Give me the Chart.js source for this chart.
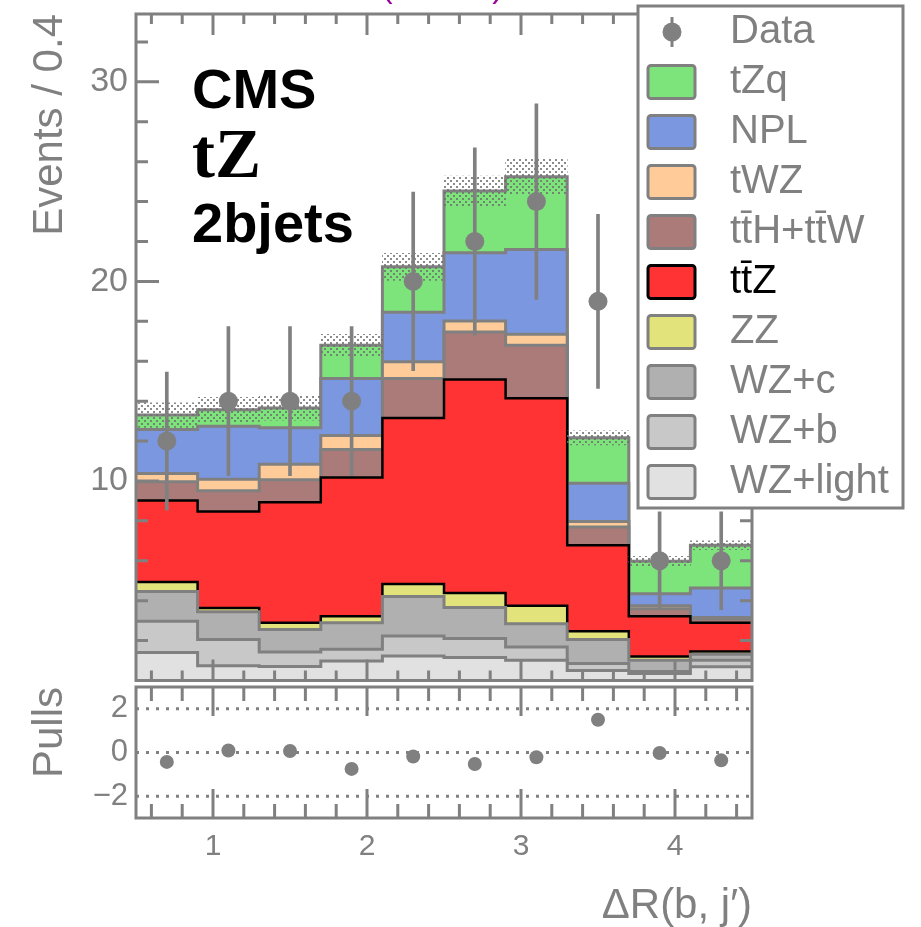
<!DOCTYPE html>
<html>
<head>
<meta charset="utf-8">
<script src="https://cdn.jsdelivr.net/npm/chart.js@4.4.1/dist/chart.umd.min.js"></script>
<style>
  body { margin: 0; background: #fff; }
  #wrap { position: relative; width: 921px; height: 927px; overflow: hidden; background: #fff; }
  #mainChart { position: absolute; left: 0; top: 0; }
  #pullChart { position: absolute; left: 0; top: 677px; }
</style>
</head>
<body>
<div id="wrap">
  <canvas id="mainChart" width="921" height="690"></canvas>
  <canvas id="pullChart" width="921" height="250"></canvas>
</div>
<script>
const binEdges = [0.5, 0.9, 1.3, 1.7, 2.1, 2.5, 2.9, 3.3, 3.7, 4.1, 4.5];
const binCenters = [0.7, 1.1, 1.5, 1.9, 2.3, 2.7, 3.1, 3.5, 3.9, 4.3];

// backgrounds, bottom of the stack first
const wzLight = [1.40, 0.74, 0.70, 0.98, 1.23, 1.15, 1.02, 0.50, 0.35, 0.69];
const wzB     = [1.57, 1.32, 0.73, 0.58, 1.00, 0.95, 0.66, 0.35, 0.10, 0.33];
const wzC     = [1.49, 1.38, 1.13, 1.33, 1.98, 1.56, 1.16, 1.21, 0.57, 0.30];
const zz      = [0.47, 0.19, 0.33, 0.33, 0.62, 0.72, 0.91, 0.41, 0.18, 0.13];
const ttZ     = [4.09, 4.84, 6.04, 6.95, 8.32, 10.71, 10.40, 4.31, 2.02, 1.44];
const ttHttW  = [0.94, 1.04, 1.13, 1.41, 1.99, 2.37, 2.65, 0.91, 0.38, 0.21];
const tWZ     = [0.41, 0.58, 0.78, 0.70, 0.83, 0.55, 0.55, 0.28, 0.14, 0.06];
const npl     = [2.21, 2.65, 1.82, 2.86, 2.49, 3.43, 4.25, 1.92, 0.61, 1.47];
const tZq     = [0.72, 0.83, 0.99, 1.66, 2.27, 3.09, 3.65, 2.27, 1.62, 2.15];
const totalUnc = [0.62, 0.62, 0.6, 0.55, 0.68, 0.75, 0.9, 0.35, 0.25, 0.22];

const dataCounts = [12, 14, 14, 14, 20, 22, 24, 19, 6, 6];
const dataErr = [3.46, 3.74, 3.74, 3.74, 4.47, 4.69, 4.90, 4.36, 2.45, 2.45];
const pulls = [-0.43, 0.09, 0.07, -0.75, -0.18, -0.53, -0.22, 1.5, -0.02, -0.36];
const pullLines = [-2, 0, 2];

const xTickLabels = [1, 2, 3, 4];
const yTickLabels = [10, 20, 30];
const pullTickLabels = [-2, 0, 2];

const stackLabels = ['WZ+light', 'WZ+b', 'WZ+c', 'ZZ', 'tt\u0304Z', 'tt\u0304H+tt\u0304W', 'tWZ', 'NPL', 'tZq'];
const stackColors = ['#e1e1e1', '#c8c8c8', '#b0b0b0', '#e3e37b', '#ff3333', '#ab7b79', '#ffcc99', '#7b97e0', '#7de37b'];
const legendLabels = ['Data'].concat(stackLabels.slice().reverse());

const GRAY = '#808080';
const FONT = "'Liberation Sans', Arial, Helvetica, sans-serif";

const components = [wzLight, wzB, wzC, zz, ttZ, ttHttW, tWZ, npl, tZq];
let running = binCenters.map(() => 0);
const cumulative = components.map(arr => (running = running.map((v, i) => v + arr[i])));
const total = cumulative[cumulative.length - 1];

function stepPoints(vals) {
  return binEdges.map((x, i) => ({x: x, y: vals[Math.min(i, vals.length - 1)]}));
}

function makeHatch() {
  const c = document.createElement('canvas');
  c.width = 6; c.height = 6;
  const g = c.getContext('2d');
  g.fillStyle = 'rgba(110,110,110,0.8)';
  g.fillRect(0, 0, 2, 2);
  g.fillRect(3, 3, 2, 2);
  return g.createPattern(c, 'repeat');
}

// keep chart areas exactly where the panels are
function fixWidth(s) { s.width = 136; s.paddingTop = 0; s.paddingBottom = 0; }
function fixHeight(s) { s.height = 109; s.paddingLeft = 0; s.paddingRight = 0; }

const frameTicks = {
  id: 'frameTicks',
  afterDatasetsDraw(chart, args, o) {
    const {ctx, chartArea: a} = chart;
    const xs = chart.scales.x, ys = chart.scales.y;
    const isMajor = (list, v) => list.some(m => Math.abs(m - v) < 1e-6);
    ctx.save();
    ctx.strokeStyle = GRAY;
    ctx.lineWidth = 3;
    ctx.beginPath();
    for (let i = 1; i <= 20; i++) {
      const v = 0.4 + 0.2 * i;
      const px = xs.getPixelForValue(v);
      const len = isMajor(xTickLabels, v) ? o.xMajorLen : o.xMinorLen;
      ctx.moveTo(px, a.bottom); ctx.lineTo(px, a.bottom - len);
      ctx.moveTo(px, a.top); ctx.lineTo(px, a.top + len);
    }
    if (o.yStep) {
      for (let v = o.yStep; v < ys.max; v += o.yStep) {
        const py = ys.getPixelForValue(v);
        const len = isMajor(yTickLabels, v) ? o.yMajorLen : o.yMinorLen;
        ctx.moveTo(a.left, py); ctx.lineTo(a.left + len, py);
        ctx.moveTo(a.right, py); ctx.lineTo(a.right - len, py);
      }
    }
    ctx.stroke();
    ctx.strokeRect(a.left, a.top, a.right - a.left, a.bottom - a.top);
    ctx.restore();
  }
};

const labelsAndLegend = {
  id: 'labelsAndLegend',
  afterDraw(chart) {
    const ctx = chart.ctx;
    ctx.save();
    ctx.textBaseline = 'alphabetic';
    ctx.textAlign = 'left';
    ctx.fillStyle = '#000';
    ctx.font = 'bold 56px ' + FONT;
    ctx.fillText('CMS', 192, 108);
    ctx.font = "bold 69px 'Liberation Serif', 'Times New Roman', serif";
    ctx.fillText('tZ', 192, 177);
    ctx.font = 'bold 56px ' + FONT;
    ctx.fillText('2bjets', 192, 242);

    ctx.fillStyle = '#990099';
    ctx.font = '32px ' + FONT;
    ctx.textAlign = 'right';
    ctx.fillText('35.9 fb\u207B\u00B9 (13 TeV)', 503, -3);

    // legend
    const lx = 638, ly = 6, lw = 265, lh = 502;
    ctx.fillStyle = '#fff';
    ctx.fillRect(lx, ly, lw, lh);
    ctx.strokeStyle = GRAY;
    ctx.lineWidth = 3;
    ctx.strokeRect(lx, ly, lw, lh);
    ctx.textAlign = 'left';
    ctx.textBaseline = 'middle';
    ctx.font = '40px ' + FONT;
    legendLabels.forEach((lab, i) => {
      const cy = 32 + 50 * i;
      if (i === 0) {
        ctx.strokeStyle = GRAY;
        ctx.lineWidth = 3;
        ctx.beginPath();
        ctx.moveTo(672, cy - 15); ctx.lineTo(672, cy + 15);
        ctx.stroke();
        ctx.fillStyle = GRAY;
        ctx.beginPath();
        ctx.arc(672, cy, 9.5, 0, Math.PI * 2);
        ctx.fill();
        ctx.fillText(lab, 730, cy);
        return;
      }
      const k = 9 - i;
      const dark = k === 4;
      ctx.fillStyle = stackColors[k];
      ctx.strokeStyle = dark ? '#000' : GRAY;
      ctx.lineWidth = 3;
      ctx.beginPath();
      ctx.roundRect(648, cy - 16.5, 47, 33, 3);
      ctx.fill();
      ctx.stroke();
      ctx.fillStyle = dark ? '#000' : GRAY;
      ctx.fillText(lab, 730, cy);
    });
    ctx.restore();
  }
};

const hatch = makeHatch();

const mainDatasets = [
  {
    type: 'line', label: 'Data',
    data: binCenters.map((x, i) => ({x: x, y: dataCounts[i]})),
    showLine: false, pointRadius: 9.5, pointBorderWidth: 0,
    pointBackgroundColor: GRAY, order: 0
  },
  {
    type: 'bar', label: 'Data errors',
    data: binCenters.map((x, i) => ({x: x, y: [dataCounts[i] - dataErr[i], dataCounts[i] + dataErr[i]]})),
    backgroundColor: GRAY, borderWidth: 0, barThickness: 3, grouped: false, order: 0
  },
  {
    type: 'bar', label: 'Uncertainty',
    data: binCenters.map((x, i) => ({x: x, y: [total[i] - totalUnc[i], total[i] + totalUnc[i]]})),
    backgroundColor: hatch, borderWidth: 0, barPercentage: 1, categoryPercentage: 1,
    grouped: false, order: 1
  }
].concat(cumulative.map((vals, k) => ({
  type: 'line', label: stackLabels[k],
  data: stepPoints(vals),
  stepped: 'before',
  borderColor: (k === 4 || k === 3) ? '#000' : GRAY,
  borderWidth: (k === 4 || k === 3) ? 2.5 : 3,
  backgroundColor: stackColors[k],
  fill: k === 0 ? 'origin' : '-1',
  pointRadius: 0,
  order: 2
})));

new Chart(document.getElementById('mainChart'), {
  type: 'line',
  data: { datasets: mainDatasets },
  options: {
    responsive: false,
    animation: false,
    layout: { padding: { left: 0, right: 169, top: 14, bottom: 3 } },
    plugins: {
      legend: { display: false },
      tooltip: { enabled: false },
      frameTicks: { xMinorLen: 10, xMajorLen: 21, yStep: 2, yMinorLen: 12, yMajorLen: 23 }
    },
    scales: {
      x: { type: 'linear', min: 0.5, max: 4.5, offset: false, display: false },
      y: {
        min: 0, max: 33.4,
        afterFit: fixWidth,
        afterBuildTicks: s => { s.ticks = yTickLabels.map(v => ({value: v})); },
        grid: { display: false, drawTicks: false },
        border: { display: false },
        ticks: { color: GRAY, padding: 8, font: { family: FONT, size: 34 } },
        title: {
          display: true, text: 'Events / 0.4', align: 'end', color: GRAY,
          font: { family: FONT, size: 42, lineHeight: 1 }, padding: { top: 29, bottom: 0 }
        }
      }
    }
  },
  plugins: [frameTicks, labelsAndLegend]
});

const pullDatasets = [
  {
    type: 'line', label: 'Pulls',
    data: binCenters.map((x, i) => ({x: x, y: pulls[i]})),
    showLine: false, pointRadius: 7, pointBorderWidth: 0, pointBackgroundColor: GRAY
  }
].concat(pullLines.map(v => ({
  type: 'line', label: 'ref ' + v,
  data: [{x: binEdges[0], y: v}, {x: binEdges[binEdges.length - 1], y: v}],
  borderColor: GRAY, borderWidth: 3, borderDash: [3, 7], pointRadius: 0, fill: false
})));

new Chart(document.getElementById('pullChart'), {
  type: 'line',
  data: { datasets: pullDatasets },
  options: {
    responsive: false,
    animation: false,
    layout: { padding: { left: 0, right: 169, top: 10, bottom: 0 } },
    plugins: {
      legend: { display: false },
      tooltip: { enabled: false },
      frameTicks: { xMinorLen: 14, xMajorLen: 29 }
    },
    scales: {
      x: {
        type: 'linear', min: 0.5, max: 4.5, offset: false,
        afterFit: fixHeight,
        afterBuildTicks: s => { s.ticks = xTickLabels.map(v => ({value: v})); },
        grid: { display: false, drawTicks: false },
        border: { display: false },
        ticks: { color: GRAY, padding: 11, font: { family: FONT, size: 30 } },
        title: {
          display: true, text: '\u0394R(b, j\u2032)', align: 'end', color: GRAY,
          font: { family: FONT, size: 42, lineHeight: 1 }, padding: { top: 0, bottom: 0 }
        }
      },
      y: {
        min: -3, max: 3,
        afterFit: fixWidth,
        afterBuildTicks: s => { s.ticks = pullTickLabels.map(v => ({value: v})); },
        grid: { display: false, drawTicks: false },
        border: { display: false },
        ticks: {
          color: GRAY, padding: 8, font: { family: FONT, size: 31 },
          callback: v => (v < 0 ? '\u2212' + Math.abs(v) : String(v))
        },
        title: {
          display: true, text: 'Pulls', align: 'end', color: GRAY,
          font: { family: FONT, size: 42, lineHeight: 1 }, padding: { top: 29, bottom: 0 }
        }
      }
    }
  },
  plugins: [frameTicks]
});
</script>
</body>
</html>
